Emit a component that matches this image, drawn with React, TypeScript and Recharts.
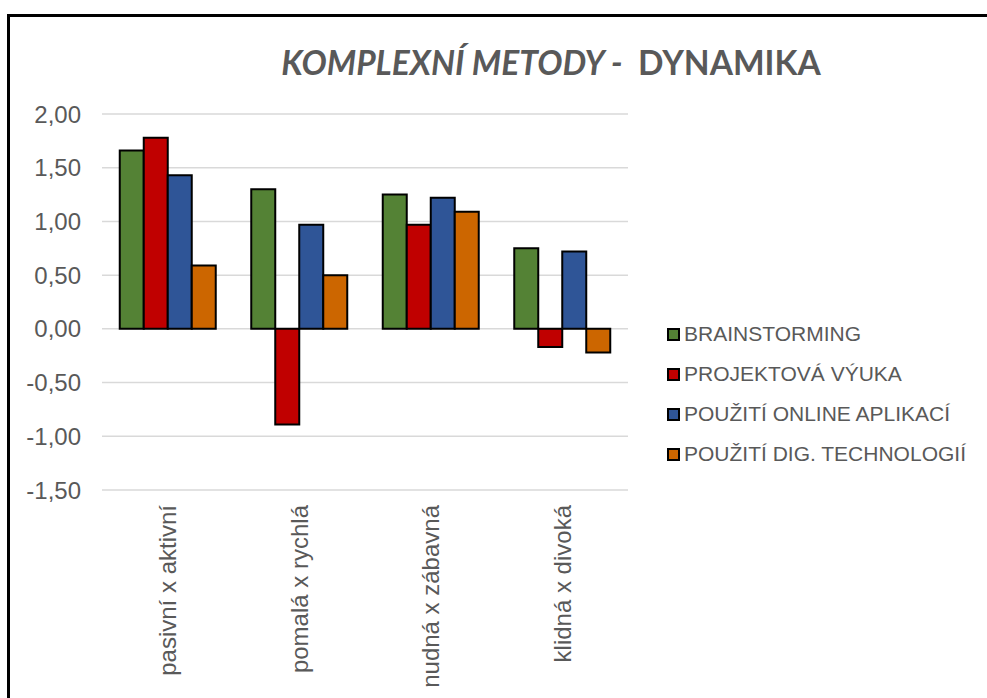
import { Bar, BarChart, CartesianGrid, XAxis, YAxis } from "recharts";

const categories = ["pasivní x aktivní", "pomalá x rychlá", "nudná x zábavná", "klidná x divoká"];
const brainstorming = [1.66, 1.3, 1.25, 0.75];
const projektova = [1.78, -0.89, 0.97, -0.17];
const onlineApp = [1.43, 0.97, 1.22, 0.72];
const digTech = [0.59, 0.5, 1.09, -0.22];
const yTicks = [-1.5, -1, -0.5, 0, 0.5, 1, 1.5, 2];

const seriesNames = [
  "BRAINSTORMING",
  "PROJEKTOVÁ VÝUKA",
  "POUŽITÍ ONLINE APLIKACÍ",
  "POUŽITÍ DIG. TECHNOLOGIÍ",
];
const colors = ["#548235", "#C00000", "#2F5597", "#CC6600"];
const keys = ["b", "p", "o", "d"];

const rows = categories.map((c, i) => ({
  name: c,
  b: brainstorming[i],
  p: projektova[i],
  o: onlineApp[i],
  d: digTech[i],
}));

const FONT = "'Liberation Sans', Arial, sans-serif";
const GREY = "#595959";

function CatTick({ x, payload }: any) {
  return (
    <g transform={`translate(${x},505)`}>
      <text
        transform="rotate(-90)"
        textAnchor="end"
        dy="0.36em"
        fontFamily={FONT}
        fontSize={24}
        fill={GREY}
      >
        {payload.value}
      </text>
    </g>
  );
}

function LegendBox() {
  return (
    <div style={{ position: "absolute", left: 667, top: 314, fontFamily: FONT, fontSize: 21, color: GREY }}>
      {seriesNames.map((n, i) => (
        <div key={n} style={{ display: "flex", alignItems: "center", height: 40 }}>
          <span
            style={{
              display: "inline-block",
              width: 9,
              height: 9,
              background: colors[i],
              border: "2px solid #000",
              marginRight: 4,
            }}
          />
          <span style={{ whiteSpace: "nowrap" }}>{n}</span>
        </div>
      ))}
    </div>
  );
}

export default function App() {
  return (
    <div style={{ position: "absolute", left: 0, top: 0, width: 987, height: 698, overflow: "hidden", background: "#fff" }}>
      <BarChart
        width={987}
        height={698}
        data={rows}
        margin={{ top: 114, right: 359, left: 0, bottom: 8 }}
        barGap={0}
        barCategoryGap="13.5%"
      >
        <CartesianGrid vertical={false} stroke="#D9D9D9" strokeWidth={1.5} />
        <XAxis
          dataKey="name"
          height={200}
          axisLine={false}
          tickLine={false}
          interval={0}
          tick={<CatTick />}
        />
        <YAxis
          width={102}
          domain={[-1.5, 2]}
          ticks={yTicks}
          axisLine={false}
          tickLine={false}
          tickMargin={15}
          tick={{ fontFamily: FONT, fontSize: 24, fill: GREY }}
          tickFormatter={(v: number) => v.toFixed(2).replace(".", ",")}
        />
        {keys.map((k, i) => (
          <Bar
            key={k}
            dataKey={k}
            name={seriesNames[i]}
            fill={colors[i]}
            stroke="#000"
            strokeWidth={2}
            isAnimationActive={false}
          />
        ))}
      </BarChart>
      <LegendBox />
      <svg width={987} height={698} style={{ position: "absolute", left: 0, top: 0, pointerEvents: "none" }}>
        <path d="M8.5 700 V15.5 H990" fill="none" stroke="#000" strokeWidth={3} />
        <text
          x={551}
          y={75}
          textAnchor="middle"
          fontFamily="Lato, 'Open Sans', sans-serif"
          fontWeight={700}
          fontSize={33.5}
          fill={GREY}
          style={{ whiteSpace: "pre" }}
        >
          <tspan fontStyle="italic">KOMPLEXNÍ METODY - </tspan>
          <tspan>{" DYNAMIKA"}</tspan>
        </text>
      </svg>
    </div>
  );
}
